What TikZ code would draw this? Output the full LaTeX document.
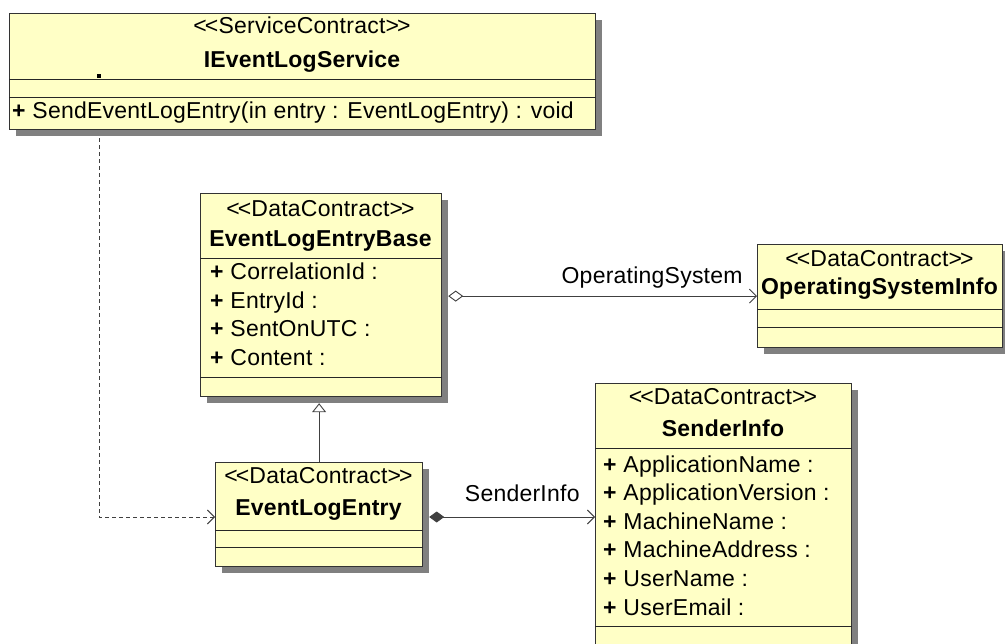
\documentclass[tikz,border=0pt]{standalone}
\usepackage{fontspec}
\setmainfont{Liberation Sans}[LetterSpace=1]
\usetikzlibrary{arrows.meta,shadows}
\definecolor{umlfill}{RGB}{255,255,198}
\definecolor{umlshadow}{RGB}{128,128,128}
\begin{document}
\begin{tikzpicture}[x=1pt, y=-1pt,
  cls/.style={draw=black!80, line width=1.2pt, fill=umlfill, anchor=north west, inner sep=0pt,
    drop shadow={shadow xshift=6pt, shadow yshift=-6pt, fill=umlshadow, opacity=1}},
  txt/.style={inner sep=0pt, anchor=base, text=black, font=\fontsize{23}{27}\selectfont},
  title/.style={txt, font=\fontsize{23}{27}\selectfont\bfseries},
  attr/.style={txt, anchor=base west},
  divider/.style={line width=1pt, black!85},
  conn/.style={line width=0.9pt, black!75}]
\useasboundingbox (0,0) rectangle (1005,644);
% IEventLogService
\node[cls, minimum width=586pt, minimum height=116pt] (svc) at (9,13) {};
\node[txt] (svc-st) at (302,34) {<\kern-2pt<ServiceContract>\kern-2pt>};
\node[title] (svc-nm) at (302,68) {IEventLogService};
\fill (97,74) rectangle (101,78);
\draw[divider] (svc.west |- 0,80) -- (svc.east |- 0,80);
\draw[divider] (svc.west |- 0,98) -- (svc.east |- 0,98);
\node[attr] (svc-op) at (12,119) {\textbf{+} SendEventLogEntry(in entry : EventLogEntry) : void};
% EventLogEntryBase
\node[cls, minimum width=241pt, minimum height=203pt] (base) at (200,193) {};
\node[txt] (base-st) at (320.5,217) {<\kern-2pt<DataContract>\kern-2pt>};
\node[title] (base-nm) at (320.5,247) {EventLogEntryBase};
\draw[divider] (base.west |- 0,259) -- (base.east |- 0,259);
\foreach \t [count=\i from 0] in {CorrelationId, EntryId, SentOnUTC, Content}
  \node[attr] (base-a\i) at (210,280+28.5*\i) {\textbf{+} \t\ :};
\draw[divider] (base.west |- 0,378) -- (base.east |- 0,378);
% OperatingSystemInfo
\node[cls, minimum width=245pt, minimum height=103pt] (osi) at (757,244) {};
\node[txt] (osi-st) at (879.5,267) {<\kern-2pt<DataContract>\kern-2pt>};
\node[title] (osi-nm) at (879.5,295) {OperatingSystemInfo};
\draw[divider] (osi.west |- 0,310) -- (osi.east |- 0,310);
\draw[divider] (osi.west |- 0,328) -- (osi.east |- 0,328);
% EventLogEntry
\node[cls, minimum width=207pt, minimum height=104pt] (entry) at (215,462) {};
\node[txt] (entry-st) at (318.5,484) {<\kern-2pt<DataContract>\kern-2pt>};
\node[title] (entry-nm) at (318.5,515) {EventLogEntry};
\draw[divider] (entry.west |- 0,530) -- (entry.east |- 0,530);
\draw[divider] (entry.west |- 0,547) -- (entry.east |- 0,547);
% SenderInfo
\node[cls, minimum width=256pt, minimum height=266pt] (sender) at (595,383) {};
\node[txt] (sender-st) at (723,405) {<\kern-2pt<DataContract>\kern-2pt>};
\node[title] (sender-nm) at (723,437) {SenderInfo};
\draw[divider] (sender.west |- 0,449) -- (sender.east |- 0,449);
\foreach \t [count=\i from 0] in {ApplicationName, ApplicationVersion, MachineName, MachineAddress, UserName, UserEmail}
  \node[attr] (sender-a\i) at (603,472+28.6*\i) {\textbf{+} \t\ :};
\draw[divider] (sender.west |- 0,626) -- (sender.east |- 0,626);
% connectors
\coordinate (bend) at (99,517);
\draw[conn, dash pattern=on 4pt off 3pt, -{Straight Barb[length=7pt, width=14pt]}]
  (svc.south -| bend) ++(0,8) -- (bend) -- (bend -| entry.west);
\draw[conn, -{Triangle[open, length=9pt, width=14pt, fill=white]}]
  (entry.north) -- ([yshift=-6pt]entry.north |- base.south);
\draw[conn, {Diamond[open, length=15pt, width=11pt, fill=white]}-{Straight Barb[length=7pt, width=14pt]}]
  ([xshift=6pt]base.east |- osi.west) -- (osi.west)
  node[txt, pos=1, anchor=base east, xshift=-14pt, yshift=13pt] (os-lbl) {OperatingSystem};
\draw[conn, {Diamond[length=15pt, width=11pt]}-{Straight Barb[length=7pt, width=14pt]}]
  ([xshift=6pt]entry.east |- bend) -- (sender.west |- bend)
  node[txt, pos=1, anchor=base east, xshift=-15pt, yshift=16pt] (si-lbl) {SenderInfo};
\end{tikzpicture}
\end{document}
